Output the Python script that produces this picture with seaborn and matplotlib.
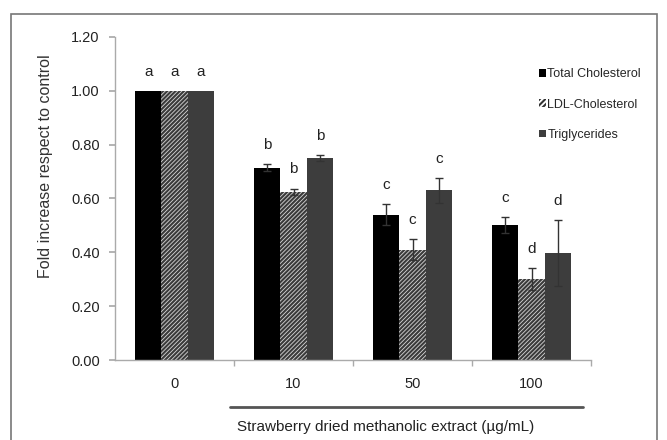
import matplotlib
matplotlib.use("Agg")
import matplotlib.pyplot as plt
import seaborn as sns
import pandas as pd
import numpy as np
from matplotlib.patches import Rectangle, Patch

sns.set_theme(style="white")
plt.rcParams['font.family'] = ['Liberation Sans', 'DejaVu Sans']
plt.rcParams['hatch.linewidth'] = 1.5

doses = ["0", "10", "50", "100"]
series = ["Total Cholesterol", "LDL-Cholesterol", "Triglycerides"]
total_chol = [1.00, 0.715, 0.54, 0.50]
ldl_chol = [1.00, 0.625, 0.41, 0.30]
triglycerides = [1.00, 0.75, 0.63, 0.397]
total_err = [0.0, 0.012, 0.04, 0.03]
ldl_err = [0.0, 0.012, 0.04, 0.04]
tg_err = [0.0, 0.012, 0.045, 0.122]
total_letters = ["a", "b", "c", "c"]
ldl_letters = ["a", "b", "c", "d"]
tg_letters = ["a", "b", "c", "d"]
yticks = [0.0, 0.2, 0.4, 0.6, 0.8, 1.0, 1.2]

vals = [total_chol, ldl_chol, triglycerides]
errs = [total_err, ldl_err, tg_err]
lets = [total_letters, ldl_letters, tg_letters]

df = pd.DataFrame({
    "dose": doses * 3,
    "series": sum([[s] * 4 for s in series], []),
    "value": total_chol + ldl_chol + triglycerides,
})

fig = plt.figure(figsize=(6.67, 4.40), dpi=100)
ax = fig.add_axes([115 / 667, 1 - 360 / 440, 476 / 667, 323 / 440])

colors = ["#000000", "#d4d4d4", "#3d3d3d"]
sns.barplot(data=df, x="dose", y="value", hue="series", order=doses,
            hue_order=series, palette=colors, width=0.664, ax=ax,
            legend=False, saturation=1, errorbar=None)

bar_containers = list(ax.containers)
for i, cont in enumerate(bar_containers):
    for j, bar in enumerate(cont):
        bar.set_edgecolor("none")
        if i == 1:
            bar.set_hatch("////////")
            bar.set_edgecolor("#3a3a3a")
            bar.set_linewidth(0)
        cx = bar.get_x() + bar.get_width() / 2
        h = bar.get_height()
        e = errs[i][j]
        if e > 0:
            ax.errorbar(cx, h, yerr=e, fmt="none", ecolor="#333333",
                        elinewidth=1, capsize=3, capthick=1, zorder=5)
        ax.text(cx, h + e + 0.045, lets[i][j], ha="center", va="bottom",
                fontsize=11, color="#222222")

ax.set_xlim(-0.5, 3.5)
ax.set_ylim(0, 1.2)
ax.set_yticks(yticks)
ax.set_yticklabels([f"{t:.2f}" for t in yticks], fontsize=10.5, color="#222222")
ax.set_xticks([0, 1, 2, 3])
ax.set_xticklabels(doses, fontsize=10.5, color="#222222")
ax.set_xticks([0.5, 1.5, 2.5, 3.5], minor=True)
ax.tick_params(axis="x", which="major", length=0, pad=12)
ax.tick_params(axis="x", which="minor", length=4, color="#aaaaaa", direction="out", bottom=True)
ax.tick_params(axis="y", length=4, color="#aaaaaa", direction="out", left=True, pad=7)
for s in ["top", "right"]:
    ax.spines[s].set_visible(False)
for s in ["left", "bottom"]:
    ax.spines[s].set_color("#aaaaaa")
    ax.spines[s].set_linewidth(1)

ax.set_ylabel("Fold increase respect to control", fontsize=11.5, color="#333333")
ax.yaxis.set_label_coords(-0.13, 0.60)
ax.set_xlabel("")

# bracket line under x labels
ax.plot([0.466, 3.43], [-0.175, -0.175], color="#555555", lw=2, clip_on=False)
ax.text(1.777, -0.249, "Strawberry dried methanolic extract (µg/mL)", ha="center",
        va="center", fontsize=11, color="#222222", clip_on=False)

handles = [Patch(facecolor="#000000", edgecolor="none"),
           Patch(facecolor="#ffffff", edgecolor="#333333", hatch="//////", linewidth=0),
           Patch(facecolor="#3d3d3d", edgecolor="none")]
leg = ax.legend(handles, series, loc="upper left", bbox_to_anchor=(0.88, 0.918),
                frameon=False, fontsize=9, handlelength=0.55, handleheight=0.55,
                handletextpad=0.12, labelspacing=1.45, borderaxespad=0)

# outer frame
fig.patches.append(Rectangle((11 / 667, -0.02), 646 / 667, 1.004 - 7 / 440,
                             transform=fig.transFigure,
                             fill=False, edgecolor="#777777", lw=1.2))

fig.savefig("out.png", dpi=100)
